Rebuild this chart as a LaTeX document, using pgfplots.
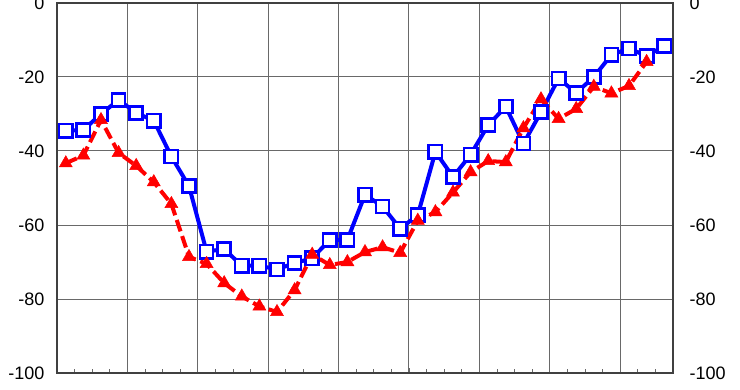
\documentclass[border=0pt]{standalone}
\usepackage{fontspec}
\setmainfont{Liberation Sans}
\usepackage{pgfplots}
\usepackage{pgfplotstable}
\pgfplotsset{compat=1.18}

\pgfplotstableread{
x y
0 -34.5
1 -34.3
2 -30
3 -26.2
4 -29.7
5 -31.8
6 -41.5
7 -49.5
8 -67.2
9 -66.5
10 -71
11 -71
12 -72
13 -70.3
14 -69
15 -64
16 -64
17 -51.8
18 -55
19 -61
20 -57.3
21 -40.2
22 -47
23 -41
24 -33
25 -28
26 -38
27 -29.5
28 -20.4
29 -24.3
30 -20
31 -14
32 -12.3
33 -14.3
34 -11.6
}\blueser

\pgfplotstableread{
x y
0 -43.3
1 -41.2
2 -31.6
3 -40.5
4 -44
5 -48.4
6 -54.3
7 -68.6
8 -70.5
9 -75.7
10 -79.3
11 -82
12 -83.5
13 -77.6
14 -68
15 -70.8
16 -70
17 -67.3
18 -66
19 -67.5
20 -58.8
21 -56.5
22 -51.2
23 -45.7
24 -42.7
25 -43
26 -33.8
27 -26
28 -31.3
29 -28.6
30 -22.6
31 -24.4
32 -22.4
33 -15.9
}\redser

\definecolor{gridgray}{RGB}{105,105,105}

\begin{document}
\begin{tikzpicture}
\begin{axis}[
  at={(0,0)}, anchor=south west,
  scale only axis, width=616pt, height=370pt,
  xmin=-0.5, xmax=34.5, ymin=-100, ymax=0,
  xtick={3.5,7.5,...,31.5}, xticklabels={},
  minor xtick={-0.5,0.5,...,34.5},
  xtick pos=bottom, tick align=inside,
  major tick length=5pt, minor tick length=4pt,
  xtick style={draw=gridgray, line width=0.8pt},
  minor tick style={draw=gridgray, line width=0.8pt},
  ytick={-100,-80,-60,-40,-20,0},
  yticklabels={-100,-80,-60,-40,-20,0},
  ytick style={draw=none},
  yticklabel style={font=\fontsize{18}{18}\selectfont, xshift=-9pt},
  grid=major,
  grid style={draw=gridgray, line width=1pt},
  axis line style={draw=black!75, line width=1.3pt},
  clip=false,
]
\addplot[draw=blue, line width=4pt, mark=square*,
  mark size=6.6pt,
  mark options={solid, fill=white, draw=blue, line width=2.6pt}]
  table[x=x,y=y]{\blueser};
\addplot[draw=red, line width=4pt, dash pattern=on 12pt off 5pt,
  mark=triangle*, mark size=7.5pt,
  mark options={solid, fill=red, draw=red, line width=0.5pt}]
  table[x=x,y=y]{\redser};
\end{axis}
\begin{axis}[
  at={(0,0)}, anchor=south west,
  scale only axis, width=616pt, height=370pt,
  xmin=-0.5, xmax=34.5, ymin=-100, ymax=0,
  xtick=\empty,
  ytick={-100,-80,-60,-40,-20,0},
  yticklabels={-100,-80,-60,-40,-20,0},
  yticklabel pos=right,
  ytick style={draw=none},
  yticklabel style={font=\fontsize{18}{18}\selectfont, xshift=13pt},
  axis line style={draw=none},
]
\end{axis}
\pgfresetboundingbox
\useasboundingbox (-57pt,-16pt) rectangle (683pt,373pt);
\end{tikzpicture}
\end{document}
